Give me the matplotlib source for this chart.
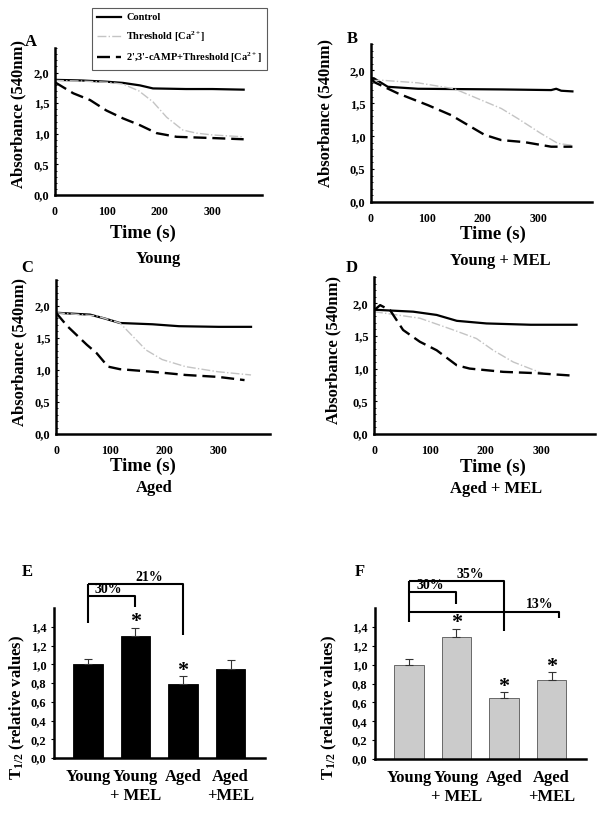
import numpy as np
import matplotlib.pyplot as plt
from matplotlib.ticker import FuncFormatter, MultipleLocator

plt.rcParams['font.family'] = ['Liberation Serif', 'DejaVu Serif']
plt.rcParams['font.weight'] = 'bold'
plt.rcParams['mathtext.fontset'] = 'custom'
plt.rcParams['mathtext.rm'] = 'Liberation Serif:bold'
plt.rcParams['mathtext.it'] = 'Liberation Serif:bold'
plt.rcParams['mathtext.default'] = 'rm'

# ---- absorbance traces (time s, absorbance 540 nm) ----
# A: young
tA_ctrl = [0, 50, 98, 130, 162, 187, 250, 300, 360]
yA_ctrl = [1.88, 1.87, 1.85, 1.83, 1.79, 1.74, 1.73, 1.73, 1.72]
tA_thr = [0, 50, 100, 130, 160, 187, 213, 244, 270, 301, 360]
yA_thr = [1.87, 1.86, 1.84, 1.81, 1.70, 1.52, 1.27, 1.06, 1.01, 0.98, 0.95]
tA_camp = [0, 35, 67, 98, 130, 162, 194, 232, 300, 360]
yA_camp = [1.84, 1.66, 1.55, 1.38, 1.25, 1.14, 1.01, 0.95, 0.93, 0.91]

# B: young + MEL
tB_ctrl = [0, 5, 30, 84, 233, 322, 331, 340, 360]
yB_ctrl = [1.85, 1.88, 1.75, 1.72, 1.71, 1.70, 1.72, 1.69, 1.68]
tB_thr = [0, 18, 84, 149, 191, 233, 262, 304, 334, 360]
yB_thr = [1.84, 1.85, 1.81, 1.72, 1.57, 1.42, 1.27, 1.04, 0.89, 0.86]
tB_camp = [0, 6, 48, 102, 143, 173, 203, 233, 274, 322, 360]
yB_camp = [1.88, 1.82, 1.65, 1.47, 1.32, 1.17, 1.02, 0.94, 0.91, 0.84, 0.84]

# C: aged
tC_ctrl = [0, 63, 90, 118, 178, 227, 300, 360]
yC_ctrl = [1.89, 1.86, 1.80, 1.73, 1.71, 1.68, 1.67, 1.67]
tC_thr = [0, 75, 118, 142, 166, 196, 239, 299, 360]
yC_thr = [1.89, 1.84, 1.73, 1.52, 1.31, 1.16, 1.05, 0.97, 0.92]
tC_camp = [0, 21, 57, 75, 96, 118, 178, 239, 299, 348]
yC_camp = [1.89, 1.68, 1.39, 1.26, 1.05, 1.01, 0.97, 0.92, 0.89, 0.84]

# D: aged + MEL
tD_ctrl = [0, 70, 112, 148, 201, 280, 362]
yD_ctrl = [1.90, 1.87, 1.82, 1.73, 1.69, 1.67, 1.67]
tD_thr = [0, 82, 142, 183, 213, 249, 285, 302]
yD_thr = [1.87, 1.77, 1.59, 1.46, 1.28, 1.10, 0.98, 0.93]
tD_camp = [0, 11, 29, 52, 82, 112, 148, 171, 231, 290, 359]
yD_camp = [1.89, 1.97, 1.89, 1.59, 1.41, 1.28, 1.05, 1.00, 0.95, 0.93, 0.89]

# ---- T1/2 bars ----
groups = ['Young', 'Young\n+ MEL', 'Aged', 'Aged\n+MEL']
E_vals = [1.00, 1.30, 0.79, 0.95]
E_err = [0.06, 0.09, 0.08, 0.10]
F_vals = [1.00, 1.29, 0.65, 0.84]
F_err = [0.06, 0.09, 0.06, 0.08]
E_stars = [1, 2]
F_stars = [1, 2, 3]

legend_labels = ['Control', 'Threshold [Ca$^{2+}$]', "2',3'-cAMP+Threshold [Ca$^{2+}$]"]

W, H = 604, 818
fig = plt.figure(figsize=(W / 100, H / 100), dpi=100)


def box(l, t, r, b):
    return [l / W, 1 - b / H, (r - l) / W, (b - t) / H]


def comma(x, pos):
    return ('%.1f' % x).replace('.', ',')


def trace_axes(rect, data, letter, lpos, ylab_pos, tlab_pos, sub, sub_pos, ylfs=12):
    ax = fig.add_axes(box(*rect))
    (tc, yc), (tt, yt), (td, yd) = data
    l1, = ax.plot(tc, yc, color='black', lw=1.6)
    l2, = ax.plot(tt, yt, color='#c4c4c4', lw=1.0, ls='-.')
    l3, = ax.plot(td, yd, color='black', lw=1.7, ls=(0, (5.5, 2.5)))
    ax.set_xlim(0, 395)
    ax.set_ylim(0, 2.4)
    ax.set_xticks([0, 100, 200, 300])
    ax.set_yticks([0, 0.5, 1.0, 1.5, 2.0])
    ax.yaxis.set_minor_locator(MultipleLocator(0.1))
    ax.yaxis.set_major_formatter(FuncFormatter(comma))
    for s in ['top', 'right']:
        ax.spines[s].set_visible(False)
    for s in ['left', 'bottom']:
        ax.spines[s].set_linewidth(1.8)
    ax.tick_params(axis='x', length=0, labelsize=8.5, pad=8)
    ax.tick_params(axis='y', which='major', length=2.5, direction='in', labelsize=9, pad=4)
    ax.tick_params(axis='y', which='minor', length=1.5, direction='in')
    fig.text(lpos[0] / W, 1 - lpos[1] / H, letter, fontsize=12, ha='center', va='center')
    fig.text(ylab_pos[0] / W, 1 - ylab_pos[1] / H, 'Absorbance (540nm)', fontsize=ylfs,
             rotation=90, ha='center', va='center')
    fig.text(tlab_pos[0] / W, 1 - tlab_pos[1] / H, 'Time (s)', fontsize=13.5,
             ha='center', va='center')
    fig.text(sub_pos[0] / W, 1 - sub_pos[1] / H, sub, fontsize=12, ha='center', va='center')
    return [l1, l2, l3]


handles = trace_axes((55, 48, 262, 195), [(tA_ctrl, yA_ctrl), (tA_thr, yA_thr), (tA_camp, yA_camp)],
                     'A', (31, 42), (18, 114), (143, 233), 'Young', (158, 259))
trace_axes((371, 44, 592, 202), [(tB_ctrl, yB_ctrl), (tB_thr, yB_thr), (tB_camp, yB_camp)],
           'B', (352, 39), (325, 113), (493, 234), 'Young + MEL', (500, 261))
trace_axes((56, 280, 270, 434), [(tC_ctrl, yC_ctrl), (tC_thr, yC_thr), (tC_camp, yC_camp)],
           'C', (27, 268), (19, 352), (143, 466), 'Aged', (154, 488))
trace_axes((374, 277, 595, 434), [(tD_ctrl, yD_ctrl), (tD_thr, yD_thr), (tD_camp, yD_camp)],
           'D', (352, 268), (333, 350), (493, 467), 'Aged + MEL', (496, 489))

leg = fig.legend(handles, legend_labels, loc='upper left', bbox_to_anchor=(92 / W, 1 - 8 / H),
                 borderaxespad=0, fontsize=7.5, frameon=True, fancybox=False,
                 handlelength=2.3, handletextpad=0.5, labelspacing=0.65, borderpad=0.5)
leg.get_frame().set_edgecolor('#333333')
leg.get_frame().set_linewidth(0.8)


def bar_axes(rect, vals, errs, color, edge, stars, letter, lpos, ylab_pos):
    ax = fig.add_axes(box(*rect))
    x = np.arange(len(vals))
    ax.bar(x, vals, width=0.62, color=color, edgecolor=edge, linewidth=0.6)
    ax.errorbar(x, vals, yerr=[[0] * len(vals), errs], fmt='none', ecolor='#333333',
                elinewidth=0.8, capsize=3, capthick=0.8)
    for i in stars:
        ax.text(x[i], vals[i] + errs[i] + 0.005, '*', ha='center', va='baseline', fontsize=16)
    ax.set_xlim(-0.71, 3.72)
    ax.set_ylim(0, 1.6)
    ax.set_yticks(np.arange(0, 1.41, 0.2))
    ax.yaxis.set_major_formatter(FuncFormatter(comma))
    ax.set_xticks(x)
    ax.set_xticklabels(groups, fontsize=12, linespacing=1.25)
    for s in ['top', 'right']:
        ax.spines[s].set_visible(False)
    for s in ['left', 'bottom']:
        ax.spines[s].set_linewidth(1.8)
    ax.tick_params(axis='x', length=0, pad=8)
    ax.tick_params(axis='y', length=2.5, direction='out', labelsize=9, pad=3)
    fig.text(lpos[0] / W, 1 - lpos[1] / H, letter, fontsize=12, ha='center', va='center')
    fig.text(ylab_pos[0] / W, 1 - ylab_pos[1] / H, 'T$_{1/2}$ (relative values)', fontsize=12,
             rotation=90, ha='center', va='center')
    return ax


def bracket(ax, x0, x1, y_top, y_end, label, lx, ly, y_start=None):
    kw = dict(color='black', lw=1.5, clip_on=False, solid_capstyle='butt')
    if y_start is not None:
        ax.plot([x0, x0], [y_start, y_top], **kw)
    ax.plot([x0, x1, x1], [y_top, y_top, y_end], **kw)
    ax.text(lx, ly, label, ha='center', va='bottom', fontsize=10, clip_on=False)


axE = bar_axes((54, 608, 265, 758), E_vals, E_err, 'black', 'black', E_stars, 'E', (27, 572), (17, 707))
bracket(axE, 0, 2, 1.86, 1.31, '21%', 1.28, 1.86, y_start=1.44)
bracket(axE, 0, 1, 1.73, 1.61, '30%', 0.42, 1.73)

axF = bar_axes((375, 608, 586, 759), F_vals, F_err, '#cbcbcb', '#555555', F_stars, 'F', (360, 572), (329, 707))
bracket(axF, 0, 2, 1.89, 1.36, '35%', 1.3, 1.89, y_start=1.45)
bracket(axF, 0, 1, 1.77, 1.64, '30%', 0.45, 1.77)
bracket(axF, 0, 3.15, 1.56, 1.49, '13%', 2.75, 1.57)

fig.savefig('out.png', dpi=100)
